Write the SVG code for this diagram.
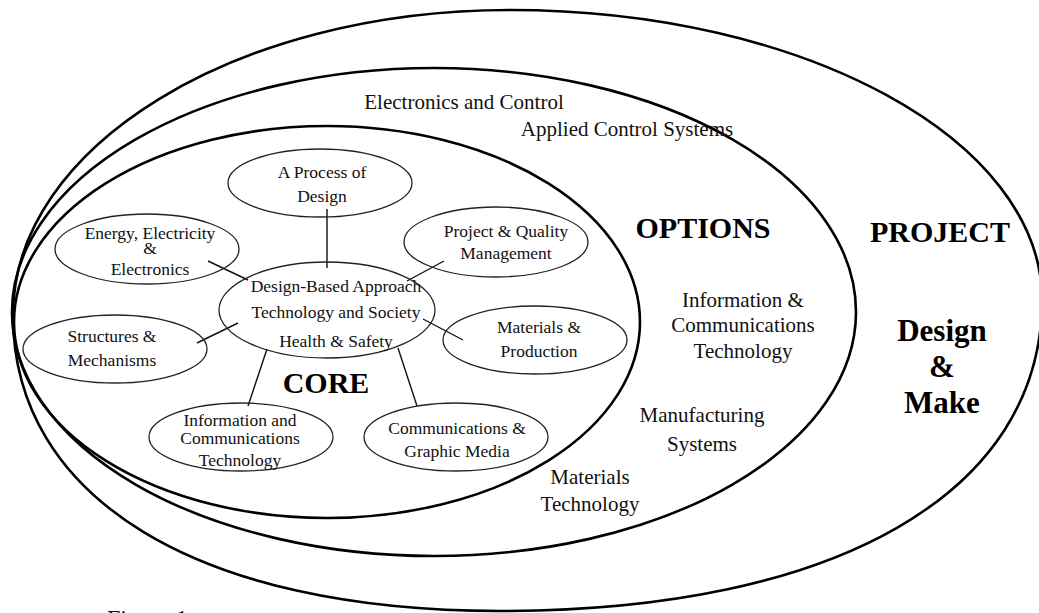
<svg xmlns="http://www.w3.org/2000/svg" width="1039" height="613" viewBox="0 0 1039 613">
<style>
.big{fill:none;stroke:#000;stroke-width:2.6}
.sm{fill:none;stroke:#222;stroke-width:1.3}
.ln{stroke:#111;stroke-width:1.4;fill:none}
.t{font-family:"Liberation Serif","Times New Roman",serif;font-size:17.5px;fill:#111;text-anchor:middle}
.o{font-family:"Liberation Serif","Times New Roman",serif;font-size:21px;fill:#111;text-anchor:middle}
.b{font-family:"Liberation Serif","Times New Roman",serif;font-weight:bold;font-size:30px;fill:#000;text-anchor:middle}
</style>
<rect width="1039" height="613" fill="#fff"/>
<g id="project">
<path class="big" d="M13,315 C13,498.5 198,611 500,611 C836,611 1042,492.8 1042,300 C1042,139.8 803.8,10 510,10 C235.5,10 13,146.6 13,315 Z"/>
<text class="b" x="940" y="242">PROJECT</text>
<text class="b" x="942" y="341" style="font-size:31px">Design</text>
<text class="b" x="942" y="377" style="font-size:31px">&amp;</text>
<text class="b" x="942" y="413" style="font-size:31px">Make</text>
</g>
<g id="options">
<ellipse class="big" cx="434" cy="312" rx="422" ry="244"/>
<text class="b" x="703" y="238">OPTIONS</text>
<text class="o" x="464" y="109">Electronics and Control</text>
<text class="o" x="627" y="136">Applied Control Systems</text>
<text class="o" x="743" y="307">Information &amp;</text>
<text class="o" x="743" y="332">Communications</text>
<text class="o" x="743" y="358">Technology</text>
<text class="o" x="702" y="422">Manufacturing</text>
<text class="o" x="702" y="451">Systems</text>
<text class="o" x="590" y="484">Materials</text>
<text class="o" x="590" y="511">Technology</text>
</g>
<g id="core">
<ellipse class="big" cx="327" cy="322" rx="313" ry="196"/>
<text class="b" x="326" y="393">CORE</text>
</g>
<g id="connectors">
<line class="ln" x1="327" y1="209" x2="327" y2="268"/>
<line class="ln" x1="208" y1="261" x2="248" y2="280"/>
<line class="ln" x1="444" y1="261" x2="407" y2="281"/>
<line class="ln" x1="238" y1="323" x2="197" y2="343"/>
<line class="ln" x1="423" y1="319" x2="463" y2="340"/>
<line class="ln" x1="267" y1="349" x2="248" y2="406"/>
<line class="ln" x1="398" y1="348" x2="417" y2="406"/>
</g>
<g id="process-of-design">
<ellipse class="sm" cx="320" cy="183" rx="92" ry="34"/>
<text class="t" x="322" y="178">A Process of</text>
<text class="t" x="322" y="202">Design</text>
</g>
<g id="energy">
<ellipse class="sm" cx="147" cy="249" rx="92" ry="35"/>
<text class="t" x="150" y="239">Energy, Electricity</text>
<text class="t" x="150" y="254">&amp;</text>
<text class="t" x="150" y="275">Electronics</text>
</g>
<g id="project-quality">
<ellipse class="sm" cx="496" cy="242" rx="92" ry="35"/>
<text class="t" x="506" y="237">Project &amp; Quality</text>
<text class="t" x="506" y="259">Management</text>
</g>
<g id="central">
<ellipse class="sm" cx="327" cy="310" rx="108" ry="48"/>
<text class="t" x="336" y="292">Design-Based Approach</text>
<text class="t" x="336" y="318">Technology and Society</text>
<text class="t" x="336" y="347">Health &amp; Safety</text>
</g>
<g id="structures">
<ellipse class="sm" cx="115" cy="349" rx="92" ry="34"/>
<text class="t" x="112" y="342">Structures &amp;</text>
<text class="t" x="112" y="366">Mechanisms</text>
</g>
<g id="materials-production">
<ellipse class="sm" cx="535" cy="340" rx="92" ry="34"/>
<text class="t" x="539" y="333">Materials &amp;</text>
<text class="t" x="539" y="357">Production</text>
</g>
<g id="ict">
<ellipse class="sm" cx="241" cy="437" rx="92" ry="34"/>
<text class="t" x="240" y="426">Information and</text>
<text class="t" x="240" y="444">Communications</text>
<text class="t" x="240" y="466">Technology</text>
</g>
<g id="comm-graphic">
<ellipse class="sm" cx="456" cy="437" rx="92" ry="34"/>
<text class="t" x="457" y="434">Communications &amp;</text>
<text class="t" x="457" y="457">Graphic Media</text>
</g>
<text class="o" x="107" y="626" style="text-anchor:start;font-size:24px">Figure 1</text>
</svg>
